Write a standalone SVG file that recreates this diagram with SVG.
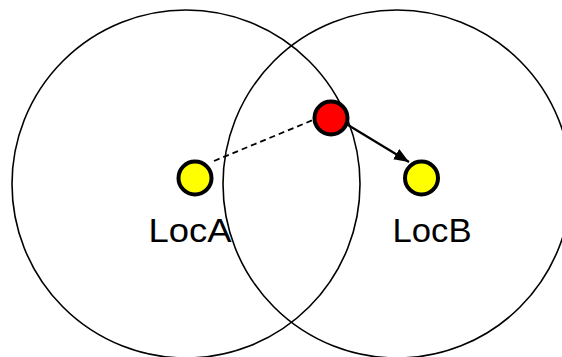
<svg xmlns="http://www.w3.org/2000/svg" width="562" height="357" viewBox="0 0 562 357">
<style>
.zone{fill:none;stroke:#000;stroke-width:1.6}
.node{stroke:#000;stroke-width:4}
.lbl{font-family:"Liberation Sans",Arial,sans-serif;font-size:34px;fill:#000}
.conn{stroke:#000;fill:none}
</style>
<defs>
<marker id="arr" markerUnits="userSpaceOnUse" markerWidth="16" markerHeight="12" refX="15" refY="6" orient="auto">
<path d="M0,0 L15,6 L0,12 Z" fill="#000"/>
</marker>
</defs>
<rect width="562" height="357" fill="#fff"/>
<g id="zoneA"><circle class="zone" cx="186" cy="184" r="174"/></g>
<g id="zoneB"><circle class="zone" cx="397" cy="184" r="174"/></g>
<g id="connectors">
<line class="conn" x1="214" y1="161" x2="313" y2="120" stroke-width="1.8" stroke-dasharray="6,4"/>
<line class="conn" x1="348" y1="125" x2="409" y2="162" stroke-width="2.2" marker-end="url(#arr)"/>
</g>
<g id="LocA"><circle class="node" cx="195" cy="178" r="16.5" fill="#ffff00"/><text class="lbl" x="190" y="242" text-anchor="middle" textLength="83" lengthAdjust="spacingAndGlyphs">LocA</text></g>
<g id="LocB"><circle class="node" cx="421.5" cy="178" r="16.5" fill="#ffff00"/><text class="lbl" x="432" y="242" text-anchor="middle" textLength="79" lengthAdjust="spacingAndGlyphs">LocB</text></g>
<g id="mobile"><circle class="node" cx="331" cy="118" r="16.5" fill="#ff0000"/></g>
</svg>
